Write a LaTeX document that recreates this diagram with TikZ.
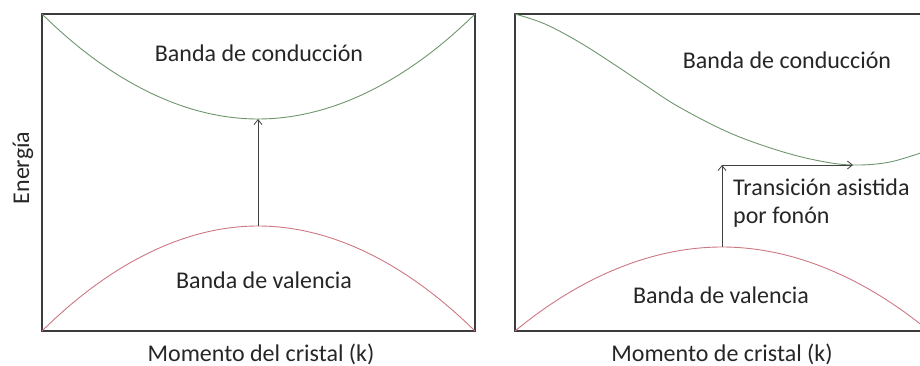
\documentclass[tikz,border=0pt]{standalone}
\usepackage{fontspec}
\setmainfont{Carlito}
\usetikzlibrary{arrows.meta}
\definecolor{bandc}{RGB}{110,150,110}
\definecolor{bandv}{RGB}{205,120,130}
\definecolor{marco}{RGB}{60,60,60}
\tikzset{
  box/.style   = {draw=marco, line width=1.3pt},
  cond/.style  = {draw=bandc, line width=0.9pt},
  val/.style   = {draw=bandv, line width=0.9pt},
  trans/.style = {-{Straight Barb[length=5pt,width=8pt]}, draw=black!75,
                  line width=0.8pt},
  txt/.style   = {font=\fontsize{24}{29}\selectfont, text=black!85,
                  inner sep=0pt}
}
\begin{document}
\begin{tikzpicture}[x=1pt,y=-1pt]
\clip (0,0) rectangle (920,366);

% panel izquierdo: transicion directa
\coordinate (a1) at (42,14);
\coordinate (b1) at (475,331);
\coordinate (cmin1) at (258,119);
\coordinate (vmax1) at (258,226);
\draw[box] (a1) rectangle (b1);
\draw[cond] (42,14) parabola bend (cmin1) (475,14);
\draw[val] (42,331) parabola bend (vmax1) (475,331);
\draw[trans] (vmax1) -- (cmin1);

\node[txt, anchor=base] (bc1) at (259,62) {Banda de conducción};
\node[txt, anchor=base] (bv1) at (264,288) {Banda de valencia};
\node[txt, anchor=base] (mk1) at (261,361) {Momento del cristal (k)};
\node[txt, rotate=90] (en) at (23,168) {Energía};

% panel derecho: transicion indirecta
\coordinate (a2) at (515,14);
\coordinate (b2) at (929,331);
\coordinate (cmin2) at (853,165);
\coordinate (vmax2) at (722,247);
\coordinate (kink) at (722,165);
\draw[box] (a2) rectangle (b2);
\draw[cond] plot[smooth, tension=0.6] coordinates {(515,14) (545,24) (579,42)
  (612,63) (645,85) (679,107) (730,133) (780,151) (820,161) (853,165)
  (890,162) (929,150)};
\draw[val] (515,331) parabola bend (vmax2) (929,331);
\draw[trans] (vmax2) -- (kink);
\draw[trans] (kink) -- (cmin2);

\node[txt, anchor=base] (bc2) at (787,69) {Banda de conducción};
\node[txt, anchor=base west, align=left] (tf) at (733,196) {Transición asistida};
\node[txt, anchor=base west] (pf) at (733,223) {por fonón};
\node[txt, anchor=base] (bv2) at (721,303) {Banda de valencia};
\node[txt, anchor=base] (mk2) at (722,361) {Momento de cristal (k)};
\end{tikzpicture}
\end{document}
